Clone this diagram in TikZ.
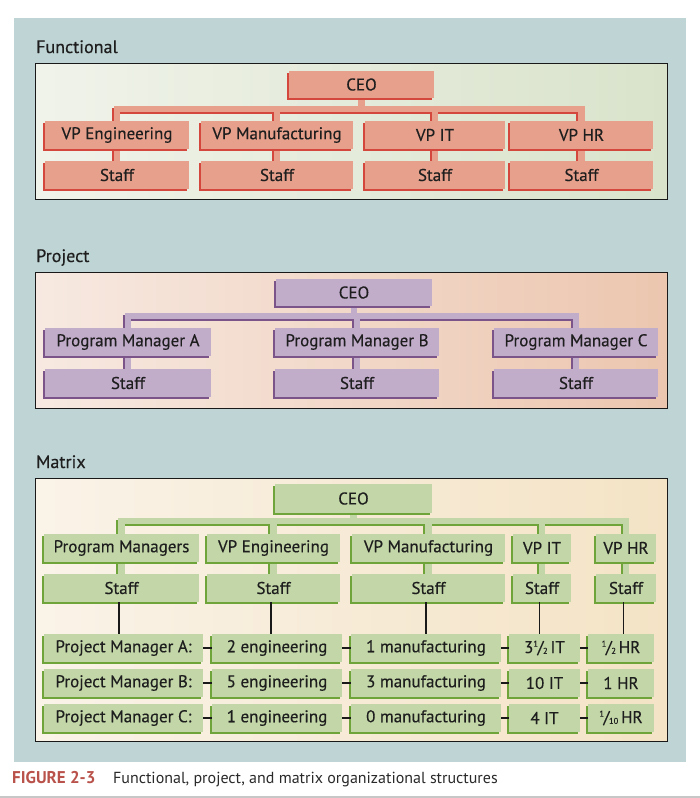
\documentclass[tikz,border=0pt]{standalone}
\usepackage{fontspec}
\setmainfont{PT Sans}[FakeBold=0.35]
\newfontfamily\capfont{PT Sans}
\usetikzlibrary{shadows}
\definecolor{panel}{HTML}{BFD4D5}
\definecolor{txt}{HTML}{1E1E1E}
\definecolor{ffill}{HTML}{E6A08C}
\definecolor{fdark}{HTML}{D4473C}
\definecolor{pfill}{HTML}{C1ACCA}
\definecolor{pdark}{HTML}{7B5489}
\definecolor{mfill}{HTML}{C2D6A7}
\definecolor{mdark}{HTML}{6FA43A}
\definecolor{fL}{HTML}{F0F3EA}
\definecolor{fR}{HTML}{D9E3CB}
\definecolor{pL}{HTML}{F7E9E1}
\definecolor{pR}{HTML}{ECC6AF}
\definecolor{mL}{HTML}{FAF3E8}
\definecolor{mR}{HTML}{F4E3C5}
\definecolor{capred}{HTML}{B9524A}
\definecolor{captxt}{HTML}{2A2A2A}
\pgfdeclarelayer{back}
\pgfdeclarelayer{conn}
\pgfsetlayers{back,conn,main}
\newcommand\bx[7]{\node[#1, minimum width={(#5-#3)*1pt}, minimum height={(#6-#4)*1pt}] (#2) at ({(#3+#5)/2},{(#4+#6)/2}) {#7};}
\newcommand\fr[2]{\raisebox{0.75ex}{\fontsize{8.5}{8.5}\selectfont #1}\kern-0.5pt/\kern-0.5pt\raisebox{-0.1ex}{\fontsize{8.5}{8.5}\selectfont #2}}
\tikzset{
  box/.style={rectangle, inner sep=0pt, text=txt},
  fb/.style={box, fill=ffill, drop shadow={shadow xshift=-2pt, shadow yshift=-2pt, fill=fdark, opacity=1}},
  pb/.style={box, fill=pfill, drop shadow={shadow xshift=-2pt, shadow yshift=-2pt, fill=pdark, opacity=1}},
  mb/.style={box, fill=mfill, drop shadow={shadow xshift=-2pt, shadow yshift=-2pt, fill=mdark, opacity=1}},
  fconn/.style={draw=ffill, line width=6.5pt, line join=miter, preaction={draw=fdark, line width=6.5pt, line join=miter, transform canvas={shift={(-2pt,-2pt)}}}},
  pconn/.style={draw=pfill, line width=6.5pt, line join=miter, preaction={draw=pdark, line width=6.5pt, line join=miter, transform canvas={shift={(-2pt,-2pt)}}}},
  mconn/.style={draw=mfill, line width=6.5pt, line join=miter, preaction={draw=mdark, line width=6.5pt, line join=miter, transform canvas={shift={(-2pt,-2pt)}}}},
  fdrop/.style={draw=ffill, line width=6.5pt},
  pdrop/.style={draw=pfill, line width=6.5pt},
  mdrop/.style={draw=mfill, line width=6.5pt},
  mline/.style={draw=black!90, line width=1.8pt},
  title/.style={anchor=base west, text=txt, inner sep=0pt, font=\fontsize{18}{21}\selectfont},
  section/.style={draw=black!90, line width=1pt}
}
\begin{document}
\begin{tikzpicture}[x=1pt, y=-1pt, font=\fontsize{17}{20}\selectfont]
\useasboundingbox (0,0) rectangle (700,798);
\begin{pgfonlayer}{back}
  \fill[white] (0,0) rectangle (700,798);
  \fill[panel] (14,18) rectangle (686,762);
  \shade[left color=fL, right color=fR] (35,63) rectangle (667,199);
  \draw[section] (35,63) rectangle (667,199);
  \shade[left color=pL, right color=pR] (35,272) rectangle (667,408);
  \draw[section] (35,272) rectangle (667,408);
  \shade[left color=mL, right color=mR] (35,478) rectangle (667,741);
  \draw[section] (35,478) rectangle (667,741);
  \draw[black!22, line width=1.5pt] (0,797) -- (700,797);
\end{pgfonlayer}

% titles
\node[title] (tf) at (36,53) {Functional};
\node[title] (tp) at (36,262) {Project};
\node[title] (tm) at (36,468) {Matrix};

% ---------- Functional ----------
\bx{fb}{fceo}{289}{71}{434}{98}{CEO}
\bx{fb}{fv1}{45}{121}{189}{149}{VP Engineering}
\bx{fb}{fv2}{201}{121}{353}{149}{VP Manufacturing}
\bx{fb}{fv3}{365}{121}{505}{149}{VP IT}
\bx{fb}{fv4}{510}{121}{653}{149}{VP HR}
\bx{fb}{fs1}{45}{161}{189}{189}{Staff}
\bx{fb}{fs2}{201}{161}{353}{189}{Staff}
\bx{fb}{fs3}{365}{161}{505}{189}{Staff}
\bx{fb}{fs4}{510}{161}{653}{189}{Staff}
\coordinate (fbar) at (0,109);

% ---------- Project ----------
\bx{pb}{pceo}{276}{279}{432}{306}{CEO}
\bx{pb}{pa}{45}{328}{211}{356}{Program Manager A}
\bx{pb}{pbm}{275}{328}{439}{356}{Program Manager B}
\bx{pb}{pc}{494}{328}{658}{356}{Program Manager C}
\bx{pb}{ps1}{45}{369}{211}{397}{Staff}
\bx{pb}{ps2}{275}{369}{439}{397}{Staff}
\bx{pb}{ps3}{494}{369}{658}{397}{Staff}
\coordinate (pbar) at (0,316);

% ---------- Matrix ----------
\bx{mb}{mceo}{275}{484}{432}{513}{CEO}
\bx{mb}{mv1}{44}{534}{199}{562}{Program Managers}
\bx{mb}{mv2}{207}{534}{340}{562}{VP Engineering}
\bx{mb}{mv3}{352}{534}{505}{562}{VP Manufacturing}
\bx{mb}{mv4}{513}{534}{571}{562}{VP IT}
\bx{mb}{mv5}{596}{534}{656}{562}{VP HR}
\bx{mb}{ms1}{44}{574}{199}{602}{Staff}
\bx{mb}{ms2}{207}{574}{340}{602}{Staff}
\bx{mb}{ms3}{352}{574}{505}{602}{Staff}
\bx{mb}{ms4}{513}{574}{571}{602}{Staff}
\bx{mb}{ms5}{596}{574}{656}{602}{Staff}
\coordinate (mbar) at (0,521);

\bx{mb}{a1}{44}{634}{203}{662}{Project Manager A:}
\bx{mb}{a2}{212}{634}{342}{662}{2 engineering}
\bx{mb}{a3}{351}{634}{501}{662}{1 manufacturing}
\bx{mb}{a4}{509}{634}{580}{662}{3\fr{1}{2}\,IT}
\bx{mb}{a5}{588}{634}{654}{662}{\fr{1}{2}\,HR}
\bx{mb}{b1}{44}{669}{203}{697}{Project Manager B:}
\bx{mb}{b2}{212}{669}{342}{697}{5 engineering}
\bx{mb}{b3}{351}{669}{501}{697}{3 manufacturing}
\bx{mb}{b4}{509}{669}{580}{697}{10 IT}
\bx{mb}{b5}{588}{669}{654}{697}{1 HR}
\bx{mb}{c1}{44}{704}{203}{732}{Project Manager C:}
\bx{mb}{c2}{212}{704}{342}{732}{1 engineering}
\bx{mb}{c3}{351}{704}{501}{732}{0 manufacturing}
\bx{mb}{c4}{509}{704}{580}{732}{4 IT}
\bx{mb}{c5}{588}{704}{654}{732}{\fr{1}{10}\,HR}

% connectors
\begin{pgfonlayer}{conn}
  \draw[fconn] (fv1.north) -- (fv1.north |- fbar) -- (fv4.north |- fbar) -- (fv4.north)
    (fv2.north |- fbar) -- (fv2.north) (fv3.north |- fbar) -- (fv3.north)
    (fv1.south) -- (fs1.north) (fv2.south) -- (fs2.north)
    (fv3.south) -- (fs3.north) (fv4.south) -- (fs4.north);
  \draw[fdrop] (fceo.south) -- (fceo.south |- fbar);

  \draw[pconn] (pa.north) -- (pa.north |- pbar) -- (pc.north |- pbar) -- (pc.north)
    (pbm.north |- pbar) -- (pbm.north)
    (pa.south) -- (ps1.north) (pbm.south) -- (ps2.north) (pc.south) -- (ps3.north);
  \draw[pdrop] (pceo.south) -- (pceo.south |- pbar);

  \draw[mconn] (mv1.north) -- (mv1.north |- mbar) -- (mv5.north |- mbar) -- (mv5.north)
    (mv2.north |- mbar) -- (mv2.north) (mv3.north |- mbar) -- (mv3.north)
    (mv4.north |- mbar) -- (mv4.north)
    (mv1.south) -- (ms1.north) (mv2.south) -- (ms2.north) (mv3.south) -- (ms3.north)
    (mv4.south) -- (ms4.north) (mv5.south) -- (ms5.north);
  \draw[mdrop] (mceo.south) -- (mceo.south |- mbar);
\end{pgfonlayer}

% matrix black lines
\foreach \s/\t in {ms1/a1, ms2/a2, ms3/a3, ms4/a4, ms5/a5}
  \draw[mline] ([xshift=-2.5pt]\s.south) -- ([xshift=-2.5pt]\s.south |- \t.north);
\foreach \r in {a,b,c}{
  \draw[mline] (\r1.east) -- (\r2.west);
  \draw[mline] (\r2.east) -- (\r3.west);
  \draw[mline] (\r3.east) -- (\r4.west);
  \draw[mline] (\r4.east) -- (\r5.west);
}

% caption
\node[anchor=base west, inner sep=0pt, text=capred, font=\capfont\fontsize{17}{20}\selectfont\bfseries] (figl) at (12,783) {FIGURE 2-3};
\node[anchor=base west, inner sep=0pt, text=captxt, font=\capfont\fontsize{16}{19}\selectfont] (capt) at (113,783) {Functional, project, and matrix organizational structures};
\end{tikzpicture}
\end{document}
